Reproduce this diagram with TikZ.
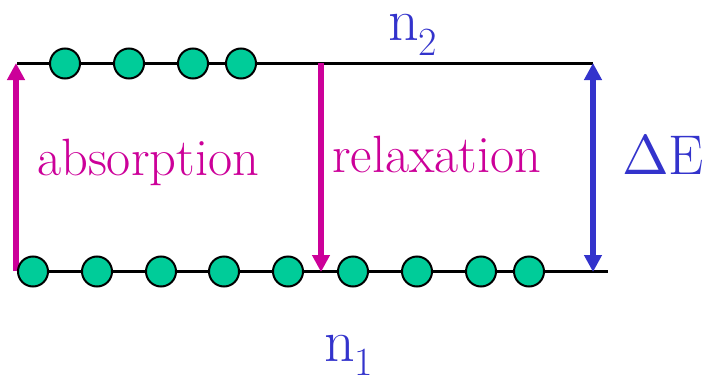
\documentclass[tikz,border=0pt]{standalone}
\usepackage{graphicx}
\usetikzlibrary{arrows.meta}
\definecolor{mag}{HTML}{CC0099}
\definecolor{blu}{HTML}{3333CC}
\definecolor{grn}{HTML}{00CC99}
\tikzset{
  level/.style={draw=black,line width=2.5pt},
  atom/.style={circle,draw=black,fill=grn,line width=2pt,minimum size=30pt,inner sep=0pt},
  trans/.style={line width=5.5pt,-{Triangle[width=17pt,length=17pt]}},
  lbl/.style={inner sep=0pt,anchor=base west},
}
\begin{document}
\begin{tikzpicture}[x=1pt,y=-1pt]
\useasboundingbox (0,0) rectangle (705,375);
% levels
\coordinate (t1) at (17,63.5);
\coordinate (t2) at (593,63.5);
\coordinate (b1) at (17,271.5);
\coordinate (b2) at (608,271.5);
\draw[level] (t1) -- (t2);
\draw[level] (b1) -- (b2);
% arrows
\coordinate (a1) at (16,271);
\coordinate (a2) at (16,63);
\coordinate (r1) at (321,63);
\coordinate (r2) at (321,272);
\coordinate (d1) at (593,63);
\coordinate (d2) at (593,272);
\draw[trans,mag] (a1) -- (a2);
\draw[trans,mag] (r1) -- (r2);
\draw[line width=5.5pt,blu,{Triangle[width=17pt,length=17pt]}-{Triangle[width=17pt,length=17pt]}] (d1) -- (d2);
% atoms top
\node[atom] (u1) at (65,63.5) {};
\node[atom] (u2) at (129,63.5) {};
\node[atom] (u3) at (193,63.5) {};
\node[atom] (u4) at (241,63.5) {};
% atoms bottom
\node[atom] (l1) at (33,271.5) {};
\node[atom] (l2) at (97,271.5) {};
\node[atom] (l3) at (161,271.5) {};
\node[atom] (l4) at (224,271.5) {};
\node[atom] (l5) at (288,271.5) {};
\node[atom] (l6) at (353,271.5) {};
\node[atom] (l7) at (417,271.5) {};
\node[atom] (l8) at (481,271.5) {};
\node[atom] (l9) at (529,271.5) {};
% labels
\node[lbl,mag,font=\fontsize{52.5}{52.5}\selectfont] (abs) at (37,175) {absorption};
\node[lbl,mag,font=\fontsize{52.5}{52.5}\selectfont] (rel) at (332,172) {relaxation};
\node[lbl,blu,font=\fontsize{56}{56}\selectfont] (de) at (622,174) {\scalebox{5.6}{\fontsize{10}{12}\selectfont$\Delta$}E};
\node[lbl,blu,font=\fontsize{60}{60}\selectfont] (n2) at (388,40) {n\raisebox{-15pt}{\fontsize{40}{40}\selectfont 2}};
\node[lbl,blu,font=\fontsize{60}{60}\selectfont] (n1) at (324,361) {n\raisebox{-14pt}{\fontsize{40}{40}\selectfont 1}};
\end{tikzpicture}
\end{document}
